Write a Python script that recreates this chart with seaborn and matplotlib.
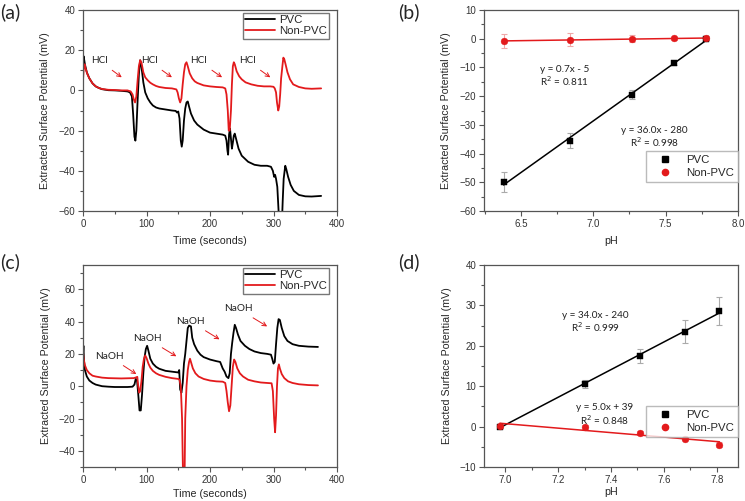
import numpy as np
import pandas as pd
import seaborn as sns
import matplotlib
matplotlib.use('Agg')
import matplotlib.pyplot as plt
from matplotlib.lines import Line2D
from matplotlib.ticker import MultipleLocator

# ---- (a) HCl additions, time traces ----
t_a_pvc = [0, 1, 3, 6, 10, 15, 20, 25, 30, 40, 50, 60, 70, 74, 77, 79, 81, 82.5, 84, 86, 88, 90, 92, 95,
           98, 102, 106, 110, 115, 120, 130, 140, 146, 148, 150, 152, 154, 155.5, 157, 159, 161, 163, 165,
           167, 170, 175, 180, 190, 200, 210, 220, 224, 226, 227.5, 228.5, 230, 231.5, 233, 234.5, 236,
           237.5, 239, 241, 245, 250, 260, 270, 280, 290, 296, 299, 301, 302.5, 304, 306, 308, 309, 313,
           314.5, 316, 318.5, 320, 323, 327, 332, 340, 350, 360, 375]
y_a_pvc = [15, 17, 13, 9, 6, 3.5, 2, 1.2, 0.6, 0.1, 0, -0.2, -0.5, -1, -3, -12, -23, -25, -20, -5, 8, 15, 12, 4,
           -1, -4, -6, -7.5, -8.5, -9, -9.5, -10, -10.2, -11, -10.5, -14, -25, -28, -25, -15, -9, -6, -5.5,
           -8, -11.5, -15, -17, -19.5, -21, -21.5, -22, -22.5, -25, -30, -32, -22, -19, -24, -29, -26,
           -22.5, -21.5, -24, -29, -32.5, -35.5, -37, -37.5, -37.5, -38, -40, -43, -42, -44, -48, -60, -68, -68,
           -55, -44, -37.5, -39, -43, -47, -50, -52, -52.7, -52.8, -52.5]

t_a_non = [0, 1, 2.5, 4, 7, 10, 15, 20, 25, 30, 40, 50, 60, 70, 75, 78, 80, 82, 84, 86, 88, 90, 92, 95, 98,
           102, 106, 110, 115, 120, 130, 140, 147, 149, 151, 153, 155, 157, 159, 161, 163, 165, 168, 172,
           176, 180, 190, 200, 210, 220, 224, 226, 228, 229.5, 231, 233, 234.5, 236, 237.5, 239, 242, 246,
           250, 256, 265, 275, 285, 295, 300, 302, 304, 305.5, 307.5, 309, 310.5, 312, 314, 315.5, 317,
           319, 322, 326, 331, 340, 350, 360, 375]
y_a_non = [5, 10, 13, 11, 8, 6, 3.5, 2, 1.2, 0.7, 0.3, 0.2, 0, 0, -0.5, -2, -4.5, -6, -3, 5, 12, 15, 14, 9, 6.5,
           5, 3.8, 3, 2.2, 1.7, 1.2, 1, 0.5, -1, -4, -6, -4, 3, 9, 13, 14, 12, 8.5, 6,
           4.5, 3.7, 2.5, 2, 1.7, 1.5, 1, -2, -10, -20, -20, -10, 3, 12, 14, 13, 9.5, 7,
           5.5, 4, 3, 2.3, 2, 2, 1.8, 1, -1, -6, -10, -8, -2, 6, 12, 16.3, 15.5,
           13, 9, 5.5, 3, 1.7, 1, 0.8, 1]

hcl_text_t = [26, 104, 182, 259]
hcl_text_y = [14.7, 14.7, 14.7, 14.7]
hcl_head_t = [61, 140, 219, 295]
hcl_head_y = [6.5, 6.5, 6.5, 6.5]

# ---- (b) acid calibration ----
ph_b = [6.38, 6.84, 7.27, 7.56, 7.78]
pvc_b = [-50.0, -35.5, -19.5, -8.3, 0.0]
pvc_b_err = [3.5, 2.5, 1.5, 0.7, 0.3]
non_b = [-0.9, -0.3, 0.0, 0.1, 0.1]
non_b_err = [2.5, 2.3, 1.2, 0.5, 0.3]

# ---- (c) NaOH additions, time traces ----
t_c_pvc = [0, 0.7, 1.5, 3, 6, 10, 15, 20, 30, 40, 50, 60, 70, 78, 81, 83, 85, 87, 89, 91, 93, 95, 97, 99,
           101, 103, 106, 110, 115, 120, 130, 140, 150, 151.5, 153, 155, 157, 159, 161, 163, 165, 167,
           170, 172, 175, 180, 185, 190, 200, 210, 216, 218, 220, 223, 226, 229, 231, 233, 235, 237, 239,
           241, 244, 248, 255, 262, 270, 280, 290, 296, 298, 300, 302, 304, 306, 308, 310, 313, 317, 322,
           330, 340, 355, 370]
y_c_pvc = [20, 25, 16, 10, 6, 3.5, 2, 1, 0, -0.3, -0.5, -0.5, -0.5, -0.3, 1, 4.5, 4, -5, -15, -15, -5, 8, 18, 23,
           25, 22, 17, 14, 12, 10.8, 9.5, 9, 8.5, 10, -2, -4, 2, 14, 20, 28, 36, 37.5,
           37, 30, 26, 22, 19.5, 18, 16.5, 15.5, 15, 13, 11, 9, 6, 5, 8, 20, 27, 33, 38,
           36, 32, 28, 25, 23, 21.5, 20.5, 20, 19.5, 17, 14, 15, 26, 36, 41.5, 41, 36, 31, 28,
           26, 25, 24.5, 24.3]

t_c_non = [0, 1, 3, 6, 10, 15, 20, 30, 40, 60, 80, 84, 85.5, 87, 88.5, 90, 92, 94, 96, 98, 100, 103, 106,
           110, 115, 120, 130, 140, 150, 152, 154, 156, 157.5, 160, 161, 163, 165, 167, 168.5, 170, 173,
           177, 182, 190, 200, 210, 220, 224, 226, 228, 230, 232, 234, 236, 238, 240, 243, 247, 252, 260,
           270, 280, 290, 297, 299, 301, 302.5, 304, 305.5, 307, 308.5, 310, 313, 317, 323, 330, 340, 355,
           370]
y_c_non = [21, 17, 13, 10, 8, 6.5, 6, 5.3, 5, 4.8, 5, 5.5, 5.8, 0, -4, -3, 3, 12, 17, 19, 17.5, 14, 11.5,
           9.5, 8, 7, 5.8, 5, 4.5, 4, 0, -20, -55, -55, -20, 0, 10, 15, 17, 15, 11,
           8, 6, 4.5, 3.5, 3, 2.8, 2, -3, -10, -15.5, -12, 0, 12, 16.5, 15, 11, 8, 6, 4,
           3, 2.3, 2, 1.8, -3, -20, -28.5, -18, 0, 11, 13.5, 11, 7.5, 5, 3, 2, 1.2, 0.7,
           0.5]

naoh_text_t = [41, 101, 169, 244]
naoh_text_y = [18.5, 29.5, 40, 48]
naoh_head_t = [84, 147, 215, 290]
naoh_head_y = [7.5, 18.5, 29, 37]

# ---- (d) base calibration ----
ph_d = [6.98, 7.30, 7.51, 7.68, 7.81]
pvc_d = [0.0, 10.5, 17.5, 23.5, 28.6]
pvc_d_err = [0.3, 1.0, 1.7, 2.8, 3.5]
non_d = [0.1, -0.1, -1.5, -3.0, -4.5]
non_d_err = [0.3, 0.4, 0.5, 0.3, 0.6]

sns.set_style('ticks')
plt.rcParams['font.family'] = ['Liberation Sans', 'DejaVu Sans']
plt.rcParams['axes.edgecolor'] = '#555555'
plt.rcParams['axes.linewidth'] = 0.9
plt.rcParams['xtick.color'] = '#555555'
plt.rcParams['ytick.color'] = '#555555'
plt.rcParams['xtick.labelcolor'] = '#333333'
plt.rcParams['ytick.labelcolor'] = '#333333'

RED = '#e31a1c'
ANN = ['Lato', 'DejaVu Sans']

fig = plt.figure(figsize=(7.45, 5.01), dpi=100)
W, H = 745, 501


def box(l, t, r, b):
    return [l / W, 1 - b / H, (r - l) / W, (b - t) / H]


ax_a = fig.add_axes(box(83, 10, 337, 211))
ax_b = fig.add_axes(box(484, 10, 738, 211))
ax_c = fig.add_axes(box(83, 265, 337, 467))
ax_d = fig.add_axes(box(484, 265, 738, 467))


def style(ax, xlabel, ylabel, xpad=5):
    ax.set_xlabel(xlabel, fontsize=7.7, labelpad=xpad)
    ax.set_ylabel(ylabel, fontsize=7.7, labelpad=6)
    ax.tick_params(which='major', length=3.5, width=0.8, labelsize=7, pad=2)
    ax.tick_params(which='minor', length=2, width=0.8)
    for s in ax.spines.values():
        s.set_visible(True)


def trace(ax, t, y, color, label):
    sns.lineplot(x=t, y=y, ax=ax, color=color, lw=1.3, estimator=None, sort=False, label=label)


# (a)
trace(ax_a, t_a_pvc, y_a_pvc, 'black', 'PVC')
trace(ax_a, t_a_non, y_a_non, RED, 'Non-PVC')
for tx, ty, hx, hy in zip(hcl_text_t, hcl_text_y, hcl_head_t, hcl_head_y):
    ax_a.annotate('HCl', xy=(hx, hy), xytext=(tx, ty), ha='center', va='center', fontsize=7.2,
                  family=ANN, color='#222222',
                  arrowprops=dict(arrowstyle='->', color=RED, lw=0.7, shrinkA=2, shrinkB=0))
ax_a.set_xlim(0, 400)
ax_a.set_ylim(-60, 40)
ax_a.xaxis.set_major_locator(MultipleLocator(100))
ax_a.xaxis.set_minor_locator(MultipleLocator(50))
ax_a.yaxis.set_major_locator(MultipleLocator(20))
ax_a.yaxis.set_minor_locator(MultipleLocator(10))
style(ax_a, 'Time (seconds)', 'Extracted Surface Potential (mV)')
ax_a.legend(loc='upper right', bbox_to_anchor=(0.97, 0.985), fontsize=8.2, frameon=True, fancybox=False,
            edgecolor='#555555', borderpad=0.2, handlelength=2.6, handletextpad=0.4, labelspacing=0.1,
            borderaxespad=0)

# (c)
trace(ax_c, t_c_pvc, y_c_pvc, 'black', 'PVC')
trace(ax_c, t_c_non, y_c_non, RED, 'Non-PVC')
for tx, ty, hx, hy in zip(naoh_text_t, naoh_text_y, naoh_head_t, naoh_head_y):
    ax_c.annotate('NaOH', xy=(hx, hy), xytext=(tx, ty), ha='center', va='center', fontsize=7.2,
                  family=ANN, color='#222222',
                  arrowprops=dict(arrowstyle='->', color=RED, lw=0.7, shrinkA=2, shrinkB=0))
ax_c.set_xlim(0, 400)
ax_c.set_ylim(-50, 75)
ax_c.xaxis.set_major_locator(MultipleLocator(100))
ax_c.xaxis.set_minor_locator(MultipleLocator(50))
ax_c.yaxis.set_major_locator(MultipleLocator(20))
ax_c.yaxis.set_minor_locator(MultipleLocator(10))
style(ax_c, 'Time (seconds)', 'Extracted Surface Potential (mV)', xpad=3)
ax_c.legend(loc='upper right', bbox_to_anchor=(0.97, 0.985), fontsize=8.2, frameon=True, fancybox=False,
            edgecolor='#555555', borderpad=0.2, handlelength=2.6, handletextpad=0.4, labelspacing=0.1,
            borderaxespad=0)


def calib(ax, ph, pvc, pvc_err, non, non_err):
    ax.errorbar(ph, pvc, yerr=pvc_err, fmt='none', ecolor='#aaaaaa', elinewidth=0.8, capsize=2, capthick=0.8)
    ax.errorbar(ph, non, yerr=non_err, fmt='none', ecolor='#f0a8a8', elinewidth=0.8, capsize=2, capthick=0.8)
    sns.regplot(x=ph, y=pvc, ax=ax, scatter=False, ci=None, color='black', line_kws={'lw': 1.1})
    sns.regplot(x=ph, y=non, ax=ax, scatter=False, ci=None, color=RED, line_kws={'lw': 1.1})
    sns.scatterplot(x=ph, y=pvc, ax=ax, marker='s', color='black', s=22, edgecolor='black', linewidth=0.3,
                    zorder=5)
    sns.scatterplot(x=ph, y=non, ax=ax, marker='o', color=RED, s=24, edgecolor=RED, linewidth=0.3, zorder=5)
    handles = [Line2D([], [], ls='none', marker='s', color='black', ms=4.5),
               Line2D([], [], ls='none', marker='o', color=RED, ms=4.5)]
    return handles


leg_kw = dict(loc='upper right', fontsize=8.2, frameon=True, fancybox=False, edgecolor='#aaaaaa',
              borderpad=0.35, handlelength=2.6, handletextpad=0.6, labelspacing=0.25, borderaxespad=0)

# (b)
hb = calib(ax_b, ph_b, pvc_b, pvc_b_err, non_b, non_b_err)
ax_b.set_xlim(6.245, 8.0)
ax_b.set_ylim(-60, 10)
ax_b.xaxis.set_major_locator(MultipleLocator(0.5))
ax_b.xaxis.set_minor_locator(MultipleLocator(0.25))
ax_b.yaxis.set_major_locator(MultipleLocator(10))
ax_b.yaxis.set_minor_locator(MultipleLocator(5))
ax_b.text(6.80, -10.8, 'y = 0.7x - 5', ha='center', va='center', fontsize=7.2, family=ANN, color='#222222')
ax_b.text(6.80, -14.9, 'R$^2$ = 0.811', ha='center', va='center', fontsize=7.2, family=ANN, color='#222222')
ax_b.text(7.42, -31.9, 'y = 36.0x - 280', ha='center', va='center', fontsize=7.2, family=ANN, color='#222222')
ax_b.text(7.42, -36.0, 'R$^2$ = 0.998', ha='center', va='center', fontsize=7.2, family=ANN, color='#222222')
style(ax_b, 'pH', 'Extracted Surface Potential (mV)')
ax_b.legend(hb, ['PVC', 'Non-PVC'], bbox_to_anchor=(1.0, 0.30), **leg_kw)

# (d)
hd = calib(ax_d, ph_d, pvc_d, pvc_d_err, non_d, non_d_err)
ax_d.set_xlim(6.92, 7.88)
ax_d.set_ylim(-10, 40)
ax_d.xaxis.set_major_locator(MultipleLocator(0.2))
ax_d.xaxis.set_minor_locator(MultipleLocator(0.1))
ax_d.yaxis.set_major_locator(MultipleLocator(10))
ax_d.yaxis.set_minor_locator(MultipleLocator(5))
ax_d.text(7.34, 27.6, 'y = 34.0x - 240', ha='center', va='center', fontsize=7.2, family=ANN, color='#222222')
ax_d.text(7.34, 24.6, 'R$^2$ = 0.999', ha='center', va='center', fontsize=7.2, family=ANN, color='#222222')
ax_d.text(7.376, 4.7, 'y = 5.0x + 39', ha='center', va='center', fontsize=7.2, family=ANN, color='#222222')
ax_d.text(7.376, 1.7, 'R$^2$ = 0.848', ha='center', va='center', fontsize=7.2, family=ANN, color='#222222')
style(ax_d, 'pH', 'Extracted Surface Potential (mV)', xpad=1.5)
ax_d.legend(hd, ['PVC', 'Non-PVC'], bbox_to_anchor=(1.0, 0.30), **leg_kw)

# panel letters
for lab, x, y in [('(a)', 0, 3), ('(b)', 398, 3), ('(c)', 0, 253), ('(d)', 398, 253)]:
    fig.text(x / W, 1 - y / H, lab, fontsize=14, family=ANN, ha='left', va='top')

fig.savefig('out.png', dpi=100)
